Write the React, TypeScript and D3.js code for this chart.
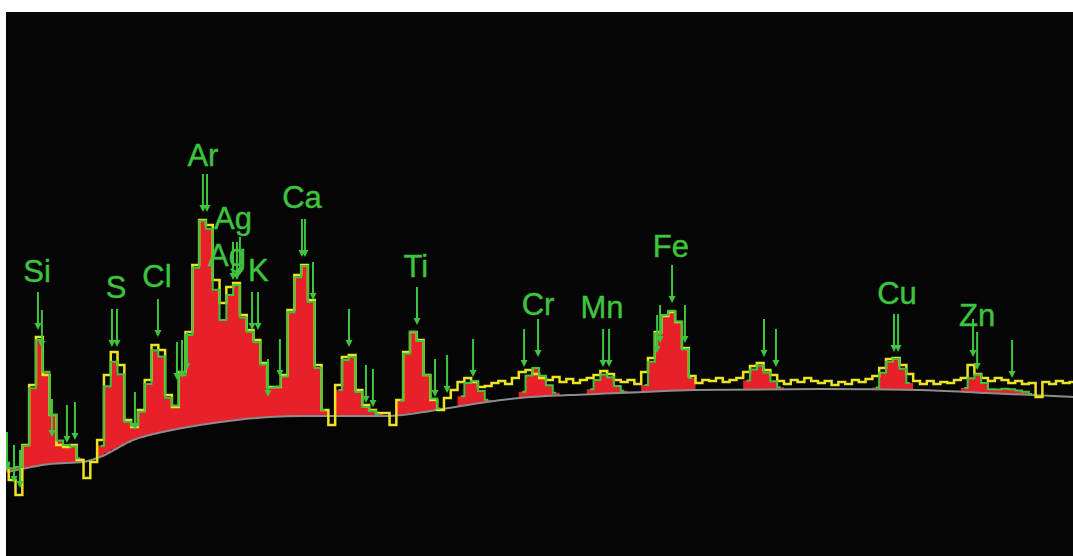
import React from "react";
import * as d3 from "d3";

// Spectrum channels: energy (keV) = CHANNEL_START + i * CHANNEL_WIDTH
const CHANNEL_START = 1.5;
const CHANNEL_WIDTH = 0.05;

// Measured counts per channel (yellow)
const measuredCounts = [
  88, 76, 61, 111, 171, 219, 181, 141, 111, 109,
  111, 96, 78, 94, 116, 181, 204, 191, 136, 129,
  146, 176, 211, 206, 161, 149, 184, 224, 291, 336,
  331, 276, 253, 269, 273, 241, 226, 216, 193, 169,
  169, 181, 246, 281, 291, 256, 191, 146, 131, 171,
  199, 201, 166, 151, 146, 143, 143, 131, 156, 204,
  224, 216, 181, 156, 146, 158, 166, 174, 178, 174,
  169, 170, 173, 175, 172, 178, 184, 186, 182, 178,
  176, 179, 174, 177, 173, 176, 178, 181, 185, 182,
  176, 174, 176, 172, 184, 198, 224, 240, 244, 234,
  208, 180, 173, 176, 175, 178, 174, 176, 178, 184,
  190, 193, 186, 181, 175, 172, 176, 174, 178, 175,
  173, 175, 171, 174, 172, 176, 174, 177, 180, 188,
  197, 198, 191, 182, 175, 172, 175, 172, 174, 173,
  176, 178, 191, 182, 178, 175, 178, 176, 173, 175,
  172, 173, 159, 174, 172, 175, 173, 174,
];

// Fitted peak counts above background per channel (red fill / green fit)
const fittedNet = [
  10, 3, 3, 23, 79, 126, 93, 49, 23, 18,
  16, 4, 0, 0, 11, 67, 88, 72, 21, 14,
  26, 52, 84, 76, 33, 24, 53, 92, 158, 204,
  195, 133, 102, 126, 135, 102, 87, 76, 53, 29,
  30, 40, 104, 139, 150, 114, 48, 6, 0, 26,
  56, 59, 24, 9, 5, 2, 0, 0, 14, 60,
  81, 71, 36, 12, 1, 0, 0, 10, 22, 23,
  12, 2, 0, 0, 0, 0, 6, 22, 29, 21,
  11, 3, 0, 0, 0, 0, 5, 14, 19, 16,
  7, 2, 0, 0, 7, 30, 58, 76, 80, 69,
  41, 12, 0, 0, 0, 0, 0, 0, 0, 9,
  20, 24, 17, 8, 2, 0, 0, 0, 0, 0,
  0, 0, 0, 0, 0, 0, 0, 0, 2, 17,
  28, 31, 21, 7, 0, 0, 0, 0, 0, 0,
  0, 4, 14, 18, 10, 4, 4, 5, 5, 4,
  3, 1, 0, 0, 0, 0, 0, 0,
];

// Background (gray) knots
const backgroundEnergy = [1.519, 1.828, 2.071, 2.196, 2.439, 2.689, 2.931, 3.203, 3.446, 3.689, 4.306, 4.674, 5.041, 5.284, 5.652, 6.189, 6.556, 7.49, 8.225, 8.718, 9.35];
const backgroundCounts = [84, 92, 94, 99, 116, 125, 131, 136, 139, 140, 140, 146, 154, 158, 161, 164, 166, 167, 166, 163, 159];

// Line markers (arrows): energy and count at arrow tip
const markerEnergy = [1.512, 1.564, 1.608, 1.74, 1.769, 1.843, 1.953, 2.012, 2.284, 2.321, 2.453, 2.622, 2.762, 2.799, 2.836, 2.953, 2.983, 3.174, 3.203, 3.225, 3.314, 3.358, 3.431, 3.519, 3.681, 3.703, 3.762, 4.027, 4.152, 4.203, 4.527, 4.659, 4.748, 4.939, 5.314, 5.417, 5.895, 5.939, 6.292, 6.314, 6.402, 6.497, 7.078, 7.166, 8.034, 8.064, 8.615, 8.645, 8.902];
const markerTip = [86, 73, 68, 226, 208, 119, 113, 116, 209, 209, 126, 219, 176, 178, 186, 344, 344, 276, 276, 281, 226, 226, 159, 179, 299, 299, 256, 209, 153, 149, 231, 159, 163, 179, 189, 199, 189, 189, 203, 213, 253, 213, 199, 189, 204, 204, 199, 186, 178];

// Element labels
const labelNames = ["Si", "S", "Cl", "Ar", "Ag", "Ag", "K", "Ca", "Ti", "Cr", "Mn", "Fe", "Cu", "Zn"];
const labelEnergy = [1.733, 2.314, 2.615, 2.953, 3.174, 3.13, 3.36, 3.681, 4.519, 5.417, 5.887, 6.394, 8.056, 8.645];
const labelCount = [274, 258, 269, 390, 327, 290, 275, 348, 279, 241, 238, 299, 252, 230];

const W = 1073;
const H = 556;
const PLOT_LEFT = 6;
const PLOT_TOP = 12;

export default function App() {
  const x = d3.scaleLinear().domain([1.505, 9.35]).range([PLOT_LEFT, W]);
  const y = d3.scaleLinear().domain([0, 544]).range([H, PLOT_TOP]);
  const bg = d3.scaleLinear().domain(backgroundEnergy).range(backgroundCounts);

  const channels = measuredCounts.map((c, i) => ({
    e: CHANNEL_START + i * CHANNEL_WIDTH,
    c,
    net: fittedNet[i] ?? 0,
  }));

  const measuredLine = d3
    .line<any>()
    .x((d) => x(d.e))
    .y((d) => y(d.c))
    .curve(d3.curveStep);

  const fitArea = d3
    .area<any>()
    .x((d) => x(d.e))
    .y0((d) => y(bg(d.e)))
    .y1((d) => y(bg(d.e) + d.net))
    .curve(d3.curveStep);

  const fitLine = d3
    .line<any>()
    .defined((d) => d.net > 0)
    .x((d) => x(d.e))
    .y((d) => y(bg(d.e) + d.net))
    .curve(d3.curveStep);

  const bgPts = backgroundEnergy.map((e, i) => [x(e), y(backgroundCounts[i])] as [number, number]);
  const bgLine = d3.line().curve(d3.curveMonotoneX)(bgPts);

  const green = "#3ec43e";

  return (
    <svg
      width={W}
      height={H}
      style={{ position: "absolute", left: 0, top: 0, background: "#fff" }}
    >
      <defs>
        <clipPath id="plotclip">
          <rect x={PLOT_LEFT} y={PLOT_TOP} width={W - PLOT_LEFT} height={H - PLOT_TOP} />
        </clipPath>
      </defs>
      <rect x={PLOT_LEFT} y={PLOT_TOP} width={W - PLOT_LEFT} height={H - PLOT_TOP} fill="#050505" />
      <g clipPath="url(#plotclip)">
        <path d={fitArea(channels) || ""} fill="#e8202a" />
        <path d={bgLine || ""} fill="none" stroke="#8c8c8c" strokeWidth={2} />
        <path d={measuredLine(channels) || ""} fill="none" stroke="#ece41e" strokeWidth={2.5} />
        <path d={fitLine(channels) || ""} fill="none" stroke={green} strokeWidth={2} />
        {labelNames.map((n, i) => (
          <text
            key={"l" + i}
            x={x(labelEnergy[i])}
            y={y(labelCount[i])}
            textAnchor="middle"
            fontFamily="'Liberation Sans', Arial, sans-serif"
            fontSize={31}
            fill={green}
            stroke={green}
            strokeWidth={0.4}
          >
            {n}
          </text>
        ))}
        {markerEnergy.map((e, i) => {
          const px = x(e);
          const tip = y(markerTip[i]);
          return (
            <g key={"m" + i}>
              <line x1={px} x2={px} y1={tip - 38} y2={tip - 4} stroke={green} strokeWidth={2} />
              <path d={`M${px - 3.5},${tip - 7}L${px + 3.5},${tip - 7}L${px},${tip}Z`} fill={green} />
            </g>
          );
        })}
      </g>
    </svg>
  );
}
